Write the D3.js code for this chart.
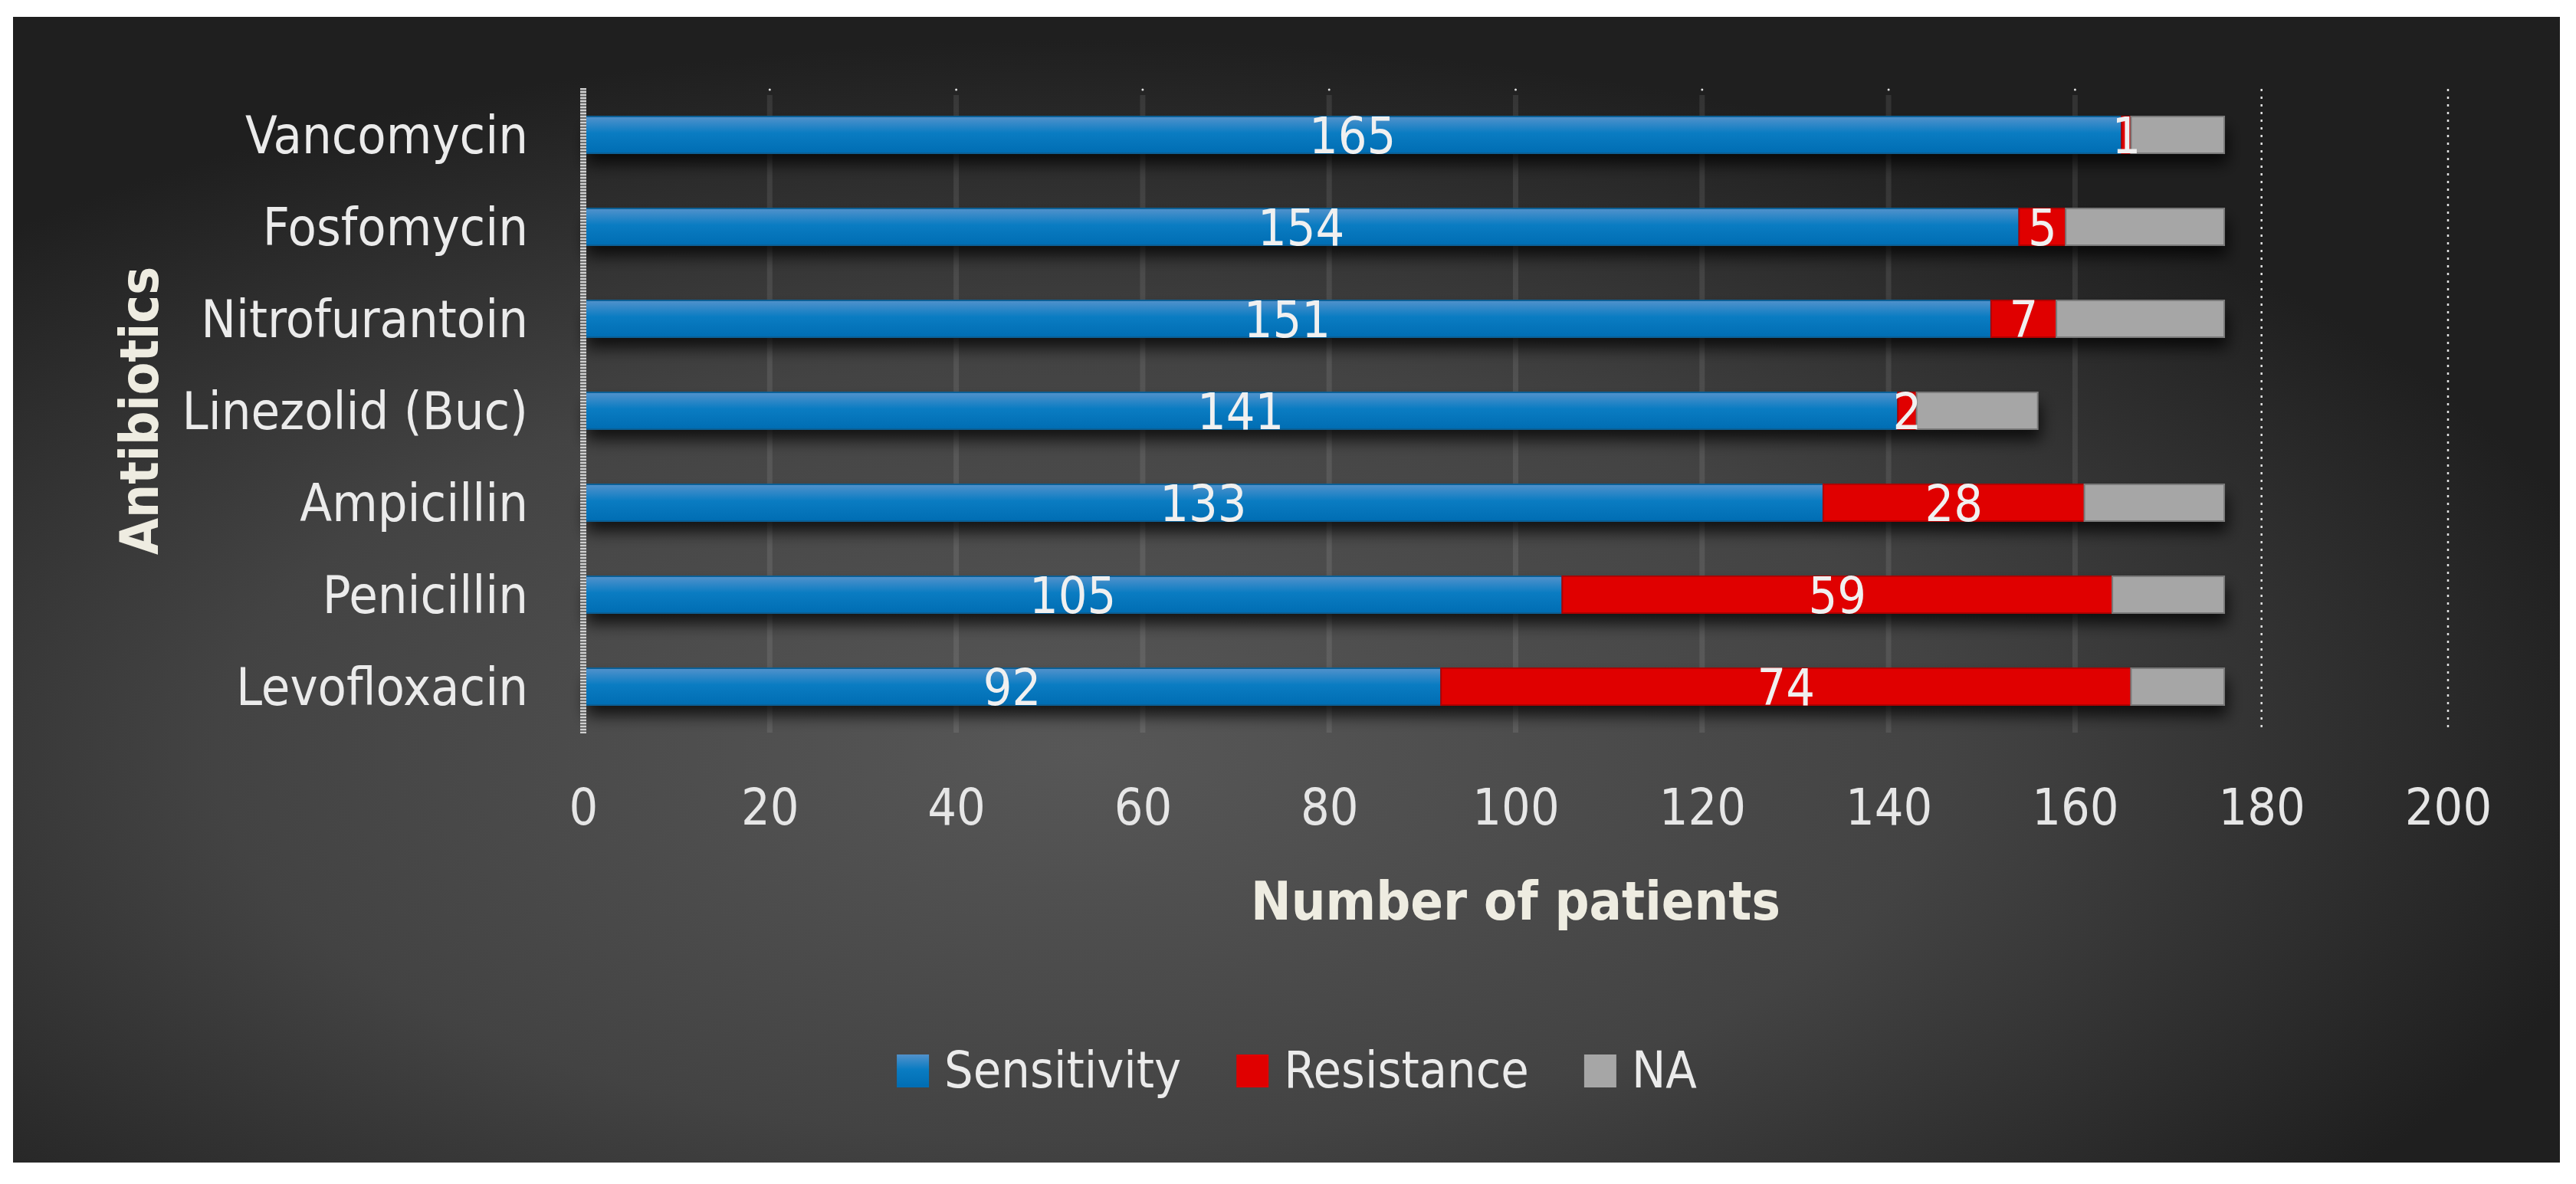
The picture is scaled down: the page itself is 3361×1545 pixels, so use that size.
<!DOCTYPE html>
<html><head><meta charset="utf-8">
<script src="https://cdn.jsdelivr.net/npm/d3@7"></script>
<style>
html,body{margin:0;padding:0;background:#fff;}
svg{display:block;}
text{font-family:"DejaVu Sans Condensed","Liberation Sans Narrow",sans-serif;}
</style></head>
<body>
<svg id="chart" width="3361" height="1545"></svg>
<script>
const categories = ["Vancomycin","Fosfomycin","Nitrofurantoin","Linezolid (Buc)","Ampicillin","Penicillin","Levofloxacin"];
const sensitivity = [165,154,151,141,133,105,92];
const resistance = [1,5,7,2,28,59,74];
const naValues = [10,17,18,13,15,12,10];
const seriesNames = ["Sensitivity","Resistance","NA"];
const xTicks = [0,20,40,60,80,100,120,140,160,180,200];

const svg = d3.select("#chart");
const defs = svg.append("defs");

const bg = defs.append("radialGradient").attr("id","bg")
  .attr("cx","0.42").attr("cy","0.64").attr("r","0.62").attr("fx","0.42").attr("fy","0.64");
bg.append("stop").attr("offset","0%").attr("stop-color","#575757");
bg.append("stop").attr("offset","55%").attr("stop-color","#434343");
bg.append("stop").attr("offset","100%").attr("stop-color","#1f1f1f");

const blue = defs.append("linearGradient").attr("id","blueGrad").attr("x1",0).attr("y1",0).attr("x2",0).attr("y2",1);
blue.append("stop").attr("offset","0%").attr("stop-color","#5292cc");
blue.append("stop").attr("offset","45%").attr("stop-color","#0a7cc2");
blue.append("stop").attr("offset","100%").attr("stop-color","#006db3");

const sh = defs.append("filter").attr("id","shadow").attr("x","-10%").attr("y","-50%").attr("width","120%").attr("height","250%");
sh.append("feDropShadow").attr("dx",4).attr("dy",14).attr("stdDeviation",10).attr("flood-color","#000").attr("flood-opacity",0.75);

svg.append("rect").attr("x",17).attr("y",22).attr("width",3323).attr("height",1495).attr("fill","url(#bg)");

const pLeft = 761, pRight = 3194, pTop = 116, pBottom = 956;
const x = d3.scaleLinear().domain([0,200]).range([pLeft,pRight]);
const y = d3.scaleBand().domain(categories).range([pTop,pBottom]).paddingInner(0.6).paddingOuter(0.3);

// gridlines
const g = svg.append("g");
g.selectAll("line.grid").data(xTicks.filter(t=>t>0 && t<180)).enter().append("line")
  .attr("x1",d=>x(d)).attr("x2",d=>x(d)).attr("y1",pTop+8).attr("y2",pBottom)
  .attr("stroke","#ffffff").attr("stroke-opacity",0.09).attr("stroke-width",7);
g.selectAll("circle.gdot").data(xTicks.filter(t=>t>0 && t<180)).enter().append("circle")
  .attr("cx",d=>x(d)).attr("cy",pTop+1).attr("r",1.5).attr("fill","#dddddd");
g.selectAll("line.dgrid").data(xTicks.filter(t=>t>=180)).enter().append("line")
  .attr("x1",d=>x(d)).attr("x2",d=>x(d)).attr("y1",pTop).attr("y2",pBottom)
  .attr("stroke","#e0e0e0").attr("stroke-width",2.5).attr("stroke-dasharray","3 7");

// stacked data
const rows = categories.map((c,i)=>({cat:c, Sensitivity:sensitivity[i], Resistance:resistance[i], NA:naValues[i]}));
const stack = d3.stack().keys(seriesNames)(rows);
const fills = {Sensitivity:"url(#blueGrad)", Resistance:"#e00000", NA:"#a6a6a6"};
const strokes = {Sensitivity:"#0b5f95", Resistance:"#b00000", NA:"#7a7a7a"};

// shadows
svg.append("g").attr("filter","url(#shadow)").selectAll("rect").data(rows).enter().append("rect")
  .attr("x",x(0)).attr("y",d=>y(d.cat)).attr("height",y.bandwidth())
  .attr("width",d=>x(d.Sensitivity+d.Resistance+d.NA)-x(0)).attr("fill","#555");

const layers = svg.append("g").selectAll("g").data(stack).enter().append("g");
layers.selectAll("rect").data(s=>s.map(d=>({key:s.key, d}))).enter().append("rect")
  .attr("x",v=>x(v.d[0])).attr("width",v=>x(v.d[1])-x(v.d[0]))
  .attr("y",v=>y(v.d.data.cat)).attr("height",y.bandwidth())
  .attr("fill",v=>fills[v.key]).attr("stroke",v=>strokes[v.key]).attr("stroke-width",2);

// data labels
const labG = svg.append("g");
stack.filter(s=>s.key!=="NA").forEach(s=>{
  labG.selectAll(null).data(s).enter().append("text")
    .attr("x",d=>x((d[0]+d[1])/2)).attr("y",d=>y(d.data.cat)+y.bandwidth()/2)
    .attr("dy","0.36em").attr("text-anchor","middle")
    .attr("font-size",66).attr("fill","#f0f0f0")
    .text(d=>d[1]-d[0]);
});

// y axis line (checkered look)
svg.append("line").attr("x1",pLeft).attr("x2",pLeft).attr("y1",pTop-1).attr("y2",pBottom+1)
  .attr("stroke","#6e6e6e").attr("stroke-width",8);
svg.append("line").attr("x1",pLeft).attr("x2",pLeft).attr("y1",pTop-1).attr("y2",pBottom+1)
  .attr("stroke","#d0d0d0").attr("stroke-width",8).attr("stroke-dasharray","2 2");

// category labels
svg.append("g").selectAll("text").data(categories).enter().append("text")
  .attr("x",689).attr("y",d=>y(d)+y.bandwidth()/2).attr("dy","0.36em")
  .attr("text-anchor","end").attr("font-size",68).attr("fill","#ebebeb").text(d=>d);

// x tick labels
const xAxis = d3.axisBottom(x).tickValues(xTicks).tickSize(0).tickPadding(0);
const ax = svg.append("g").attr("transform",`translate(0,1076)`).call(xAxis);
ax.select(".domain").remove();
ax.selectAll("text").attr("font-size",66).attr("fill","#e6e6e6").attr("dy",0)
  .style("font-family",'"DejaVu Sans Condensed","Liberation Sans Narrow",sans-serif');

// axis titles
svg.append("text").attr("x",(pLeft+pRight)/2).attr("y",1200).attr("text-anchor","middle")
  .attr("font-size",70).attr("font-weight","bold").attr("fill","#eeece1").text("Number of patients");
svg.append("text").attr("transform",`translate(206,${(pTop+pBottom)/2}) rotate(-90)`).attr("text-anchor","middle")
  .attr("font-size",69).attr("font-weight","bold").attr("fill","#eeece1").text("Antibiotics");

// legend
const leg = svg.append("g");
const items = [];
seriesNames.forEach(n=>{
  const it = leg.append("g");
  it.append("rect").attr("x",0).attr("y",-43).attr("width",42).attr("height",43).attr("fill",fills[n]);
  const t = it.append("text").attr("x",62).attr("y",0).attr("font-size",66).attr("fill","#ebebeb").text(n);
  const w = 62 + t.node().getComputedTextLength();
  items.push({it,w});
});
const gap = 72;
const total = items.reduce((a,b)=>a+b.w,0) + gap*(items.length-1);
let cx = 1692 - total/2;
items.forEach(o=>{ o.it.attr("transform",`translate(${cx},1419)`); cx += o.w + gap; });
</script>
</body></html>
